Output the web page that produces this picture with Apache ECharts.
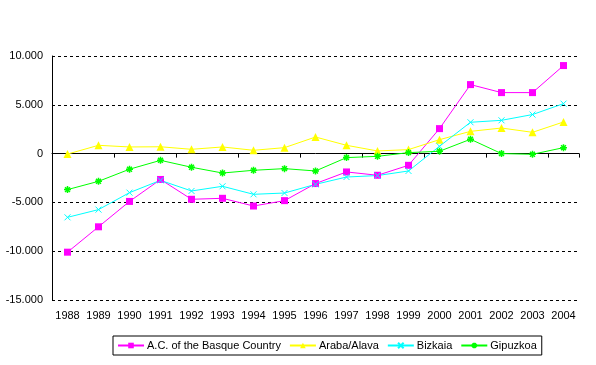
<!DOCTYPE html>
<html><head><meta charset="utf-8">
<script src="https://cdn.jsdelivr.net/npm/echarts@6/dist/echarts.min.js"></script>
<style>html,body{margin:0;padding:0;background:#fff}#c{width:596px;height:365px}</style>
</head><body><div id="c"></div>
<script>
const years = ['1988','1989','1990','1991','1992','1993','1994','1995','1996','1997','1998','1999','2000','2001','2002','2003','2004'];
const basque = [-10100,-7500,-4900,-2650,-4680,-4580,-5370,-4820,-3070,-1880,-2220,-1200,2560,7070,6250,6250,9020];
const araba = [-50,850,680,700,440,680,340,610,1700,850,270,410,1430,2280,2620,2180,3240];
const bizkaia = [-6530,-5740,-4000,-2740,-3830,-3350,-4170,-4040,-3150,-2400,-2250,-1780,750,3210,3410,4000,5120];
const gipuzkoa = [-3690,-2840,-1600,-690,-1400,-1990,-1710,-1540,-1780,-410,-280,100,240,1470,0,-70,610];
const yTicks = {min:-15000, max:10000, interval:5000};

const FONT = '"Liberation Sans", Arial, sans-serif';
const crossPath = 'path://M0,0L10,10M10,0L0,10';
const starPath = 'path://M5,0L5,10M0,5L10,5M1.5,1.5L8.5,8.5M8.5,1.5L1.5,8.5';
function fmt(v){const s=Math.abs(v).toString().replace(/\B(?=(\d{3})+(?!\d))/g,'.');return (v<0?'-':'')+s;}

const chart = echarts.init(document.getElementById('c'), null, {renderer:'canvas'});
function mk(name, data, color, symbol, size, extra){
  return Object.assign({
    name, type:'line', data, xAxisIndex:0, yAxisIndex:0,
    symbol, symbolSize:size, showAllSymbol:true,
    lineStyle:{color, width:1},
    itemStyle:{color, borderColor:color, borderWidth:0},
    emphasis:{disabled:true}, animation:false
  }, extra||{});
}
chart.setOption({
  backgroundColor:'#fff',
  animation:false,
  textStyle:{fontFamily:FONT},
  grid:{left:52, right:17, top:56, bottom:65, containLabel:false},
  xAxis:[
    {type:'category', data:years, boundaryGap:true, gridIndex:0,
     axisLine:{onZero:true, lineStyle:{color:'#000', width:1}},
     axisTick:{show:true, length:4, lineStyle:{color:'#000'}},
     axisLabel:{show:false}, splitLine:{show:false}},
    {type:'category', data:years, boundaryGap:true, gridIndex:0, position:'bottom',
     axisLine:{show:false, onZero:false}, axisTick:{show:false},
     axisLabel:{color:'#000', fontSize:11, fontFamily:FONT, margin:10, interval:0},
     splitLine:{show:false}}
  ],
  yAxis:{type:'value', min:yTicks.min, max:yTicks.max, interval:yTicks.interval,
    axisLine:{show:true, lineStyle:{color:'#000', width:1}},
    axisTick:{show:false},
    axisLabel:{color:'#000', fontSize:11, fontFamily:FONT, margin:9, formatter:fmt},
    splitLine:{show:true, lineStyle:{color:'#000', type:[3,3], width:1}}},
  legend:{
    left:113, top:336, orient:'horizontal',
    borderColor:'#000', borderWidth:1, padding:[4,5,4,4],
    itemWidth:26, itemHeight:7, itemGap:8,
    textStyle:{color:'#000', fontSize:11, fontFamily:FONT, padding:[0,0,0,-2]},
    data:['A.C. of the Basque Country','Araba/Alava','Bizkaia','Gipuzkoa']
  },
  series:[
    mk('A.C. of the Basque Country', basque, '#FF00FF', 'rect', 7),
    mk('Araba/Alava', araba, '#FFFF00', 'triangle', 8),
    mk('Bizkaia', bizkaia, '#00FFFF', crossPath, 6, {itemStyle:{color:'#00FFFF', borderColor:'#00FFFF', borderWidth:1}}),
    mk('Gipuzkoa', gipuzkoa, '#00FF00', starPath, 7, {itemStyle:{color:'#00FF00', borderColor:'#00FF00', borderWidth:1.5}})
  ]
});
</script></body></html>
